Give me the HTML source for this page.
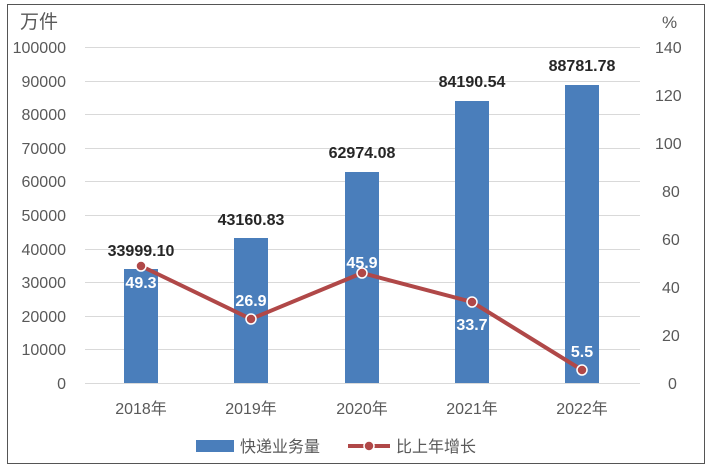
<!DOCTYPE html><html><head><meta charset="utf-8"><style>body{margin:0;background:#fff}svg{display:block}text{font-family:"Liberation Sans","Noto Sans CJK SC",sans-serif}</style></head><body>
<svg width="710" height="468" xmlns="http://www.w3.org/2000/svg">
<rect x="7.5" y="4.5" width="697" height="459" fill="#fff" stroke="#555" stroke-width="1"/>
<g stroke="#d9d9d9" stroke-width="1">
<line x1="85" x2="640" y1="47.5" y2="47.5"/><line x1="85" x2="640" y1="81.5" y2="81.5"/><line x1="85" x2="640" y1="114.5" y2="114.5"/><line x1="85" x2="640" y1="148.5" y2="148.5"/><line x1="85" x2="640" y1="181.5" y2="181.5"/><line x1="85" x2="640" y1="215.5" y2="215.5"/><line x1="85" x2="640" y1="249.5" y2="249.5"/><line x1="85" x2="640" y1="282.5" y2="282.5"/><line x1="85" x2="640" y1="316.5" y2="316.5"/><line x1="85" x2="640" y1="349.5" y2="349.5"/><line x1="85" x2="640" y1="383.5" y2="383.5"/>
</g>
<g font-size="16" fill="#595959" text-anchor="end">
<text x="66" y="53">100000</text><text x="66" y="87">90000</text><text x="66" y="120">80000</text><text x="66" y="154">70000</text><text x="66" y="187">60000</text><text x="66" y="221">50000</text><text x="66" y="255">40000</text><text x="66" y="288">30000</text><text x="66" y="322">20000</text><text x="66" y="355">10000</text><text x="66" y="389">0</text>
</g>
<text x="20" y="28" font-size="19" fill="#595959">万件</text>
<text x="662" y="28" font-size="17" fill="#595959">%</text>
<g font-size="16" fill="#595959" text-anchor="start">
<text x="655" y="53">140</text><text x="655" y="101">120</text><text x="655" y="149">100</text><text x="662" y="197">80</text><text x="662" y="245">60</text><text x="662" y="293">40</text><text x="662" y="341">20</text><text x="668" y="389">0</text>
</g>
<g fill="#4a7ebb">
<rect x="124" y="269" width="34" height="114"/><rect x="234" y="238" width="34" height="145"/><rect x="345" y="172" width="34" height="211"/><rect x="455" y="101" width="34" height="282"/><rect x="565" y="85" width="34" height="298"/>
</g>
<g font-size="16" font-weight="bold" fill="#262626" text-anchor="middle">
<text x="141" y="256">33999.10</text><text x="251" y="225">43160.83</text><text x="362" y="158">62974.08</text><text x="472" y="87">84190.54</text><text x="582" y="71">88781.78</text>
</g>
<polyline points="141,266 251,319 362,273 472,302 582,370" fill="none" stroke="#b04848" stroke-width="4"/>
<g fill="#b04848" stroke="#fff" stroke-width="1.5">
<circle cx="141" cy="266" r="5"/><circle cx="251" cy="319" r="5"/><circle cx="362" cy="273" r="5"/><circle cx="472" cy="302" r="5"/><circle cx="582" cy="370" r="5"/>
</g>
<g font-size="16" font-weight="bold" fill="#fff" text-anchor="middle">
<text x="141" y="288">49.3</text><text x="251" y="306">26.9</text><text x="362" y="268">45.9</text><text x="472" y="330">33.7</text><text x="582" y="357">5.5</text>
</g>
<g font-size="16" fill="#595959" text-anchor="middle">
<text x="141" y="414">2018年</text><text x="251" y="414">2019年</text><text x="362" y="414">2020年</text><text x="472" y="414">2021年</text><text x="582" y="414">2022年</text>
</g>
<rect x="196" y="440" width="38" height="12" fill="#4a7ebb"/>
<text x="240" y="452" font-size="16" fill="#595959">快递业务量</text>
<line x1="348" x2="390" y1="446" y2="446" stroke="#b04848" stroke-width="4"/>
<circle cx="369" cy="446" r="5" fill="#b04848" stroke="#fff" stroke-width="1.5"/>
<text x="396" y="452" font-size="16" fill="#595959">比上年增长</text>
</svg></body></html>
